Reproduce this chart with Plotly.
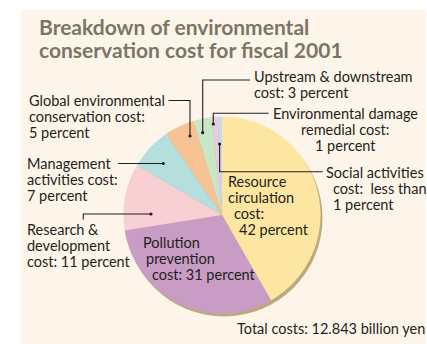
import plotly.graph_objects as go

# ---- data -------------------------------------------------------------
categories = [
    "Resource circulation cost",
    "Pollution prevention cost",
    "Research & development cost",
    "Management activities cost",
    "Global environmental conservation cost",
    "Upstream & downstream cost",
    "Environmental damage remedial cost",
    "Social activities cost",
]
percent = [42, 31, 11, 7, 5, 3, 1, 0.7]
slice_colors = ["#fde6a1", "#c89cc5", "#f8cfd3", "#b4dfdc",
                "#f7c394", "#c9e6c6", "#eccbe0", "#c8d9f0"]

title_lines = ["Breakdown of environmental", "conservation cost for fiscal 2001"]
label_lines = {
    "Resource circulation cost": ["Resource", "circulation", "cost:", "42 percent"],
    "Pollution prevention cost": ["Pollution", "prevention", "cost: 31 percent"],
    "Research & development cost": ["Research &", "development", "cost: 11 percent"],
    "Management activities cost": ["Management", "activities cost:", "7 percent"],
    "Global environmental conservation cost": ["Global environmental", "conservation cost:", "5 percent"],
    "Upstream & downstream cost": ["Upstream & downstream", "cost: 3 percent"],
    "Environmental damage remedial cost": ["Environmental damage", "remedial cost:", "1 percent"],
    "Social activities cost": ["Social activities", "cost:  less than", "1 percent"],
}
total_note = "Total costs: 12.843 billion yen"

# ---- canvas geometry (pixels) -----------------------------------------
W, H = 427, 344
FONT = "Lato"
TEXT_COLOR = "#231f20"
LABEL_SIZE = 14.5


def px(x):
    return x / W


def py(y):
    return 1 - y / H


cx, cy, r = 222, 215, 98.5

fig = go.Figure()
fig.add_trace(go.Pie(
    labels=categories,
    values=percent,
    sort=False,
    direction="clockwise",
    rotation=0,
    marker=dict(colors=slice_colors, line=dict(width=0)),
    textinfo="none",
    hoverinfo="label+value",
    showlegend=False,
    domain=dict(x=[px(cx - r), px(cx + r)], y=[py(cy + r), py(cy - r)]),
))

shapes = [
    # cream panel
    dict(type="rect", xref="paper", yref="paper", layer="below",
         x0=px(21), x1=px(426), y0=py(344), y1=py(10),
         fillcolor="#fef5ea", line=dict(width=0)),
    # drop shadow under the pie
    dict(type="circle", xref="paper", yref="paper", layer="below",
         x0=px(cx - r + 2), x1=px(cx + r + 2), y0=py(cy + r + 3), y1=py(cy - r + 3),
         fillcolor="#bcaa7e", line=dict(width=0)),
]

# leader lines: polyline points from the text side to the slice
leaders = {
    "Global environmental conservation cost": [(168.5, 100.5), (190, 100.5), (190, 136)],
    "Upstream & downstream cost": [(250, 80), (202.7, 80), (202.7, 132.7)],
    "Environmental damage remedial cost": [(268.5, 113.3), (213.3, 113.3), (213.3, 124)],
    "Social activities cost": [(322.7, 171.7), (219.6, 171.7), (219.6, 144)],
    "Management activities cost": [(118, 163.5), (163.3, 163.5)],
    "Research & development cost": [(83.3, 219.5), (83.3, 214), (151, 214)],
}
for pts in leaders.values():
    path = "M " + " L ".join(f"{px(x)},{py(y)}" for x, y in pts)
    shapes.append(dict(type="path", path=path, xref="paper", yref="paper",
                       line=dict(color=TEXT_COLOR, width=1.1)))
    ex, ey = pts[-1]
    d = 1.6
    shapes.append(dict(type="circle", xref="paper", yref="paper",
                       x0=px(ex - d), x1=px(ex + d), y0=py(ey + d), y1=py(ey - d),
                       fillcolor=TEXT_COLOR, line=dict(width=0)))

# text line placement: (x, baseline) per label line
line_pos = {
    "Resource circulation cost": [(226.7, 186.7), (226.7, 202.7), (232.7, 218.7), (238.3, 234.7)],
    "Pollution prevention cost": [(141.7, 247.5), (145, 263.5), (150.7, 279.5)],
    "Research & development cost": [(26, 235), (26, 251), (26, 267)],
    "Management activities cost": [(26, 169), (26, 185), (26, 201)],
    "Global environmental conservation cost": [(28, 105.7), (28, 121.7), (28, 137.7)],
    "Upstream & downstream cost": [(253, 82), (253, 98)],
    "Environmental damage remedial cost": [(345, 119), (345, 135), (345, 151)],
    "Social activities cost": [(325, 177.3), (331.7, 193.3), (331.7, 209.3)],
}
centered = {"Environmental damage remedial cost"}

annotations = []


def add_line(text, x, baseline, size, color, bold=False, anchor="left"):
    annotations.append(dict(
        text=f"<b>{text}</b>" if bold else text,
        x=px(x), y=py(baseline - 0.36 * size),
        xref="paper", yref="paper", xanchor=anchor, yanchor="middle",
        showarrow=False, borderpad=0,
        font=dict(family=FONT, size=size, color=color),
    ))


for cat in categories:
    for text, (x, b) in zip(label_lines[cat], line_pos[cat]):
        add_line(text, x, b, LABEL_SIZE, TEXT_COLOR,
                 anchor="center" if cat in centered else "left")

for text, b in zip(title_lines, [34.5, 56.7]):
    add_line(text, 38, b, 21, "#7a7666", bold=True)

add_line(total_note, 426, 333.3, LABEL_SIZE, TEXT_COLOR, anchor="right")

fig.update_layout(
    width=W, height=H,
    margin=dict(l=0, r=0, t=0, b=0),
    paper_bgcolor="white",
    plot_bgcolor="white",
    shapes=shapes,
    annotations=annotations,
    showlegend=False,
)

fig.write_html("out.html")
